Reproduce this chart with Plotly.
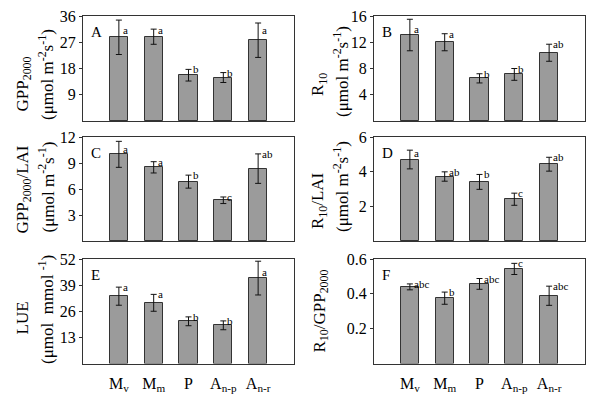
import plotly.graph_objects as go

groups = ["M<sub>v</sub>", "M<sub>m</sub>", "P", "A<sub>n-p</sub>", "A<sub>n-r</sub>"]

gpp = [28.7, 28.9, 15.7, 14.9, 27.7]
gpp_se = [5.9, 2.6, 2.0, 1.7, 5.9]
gpp_sig = ["a", "a", "b", "b", "a"]

r10 = [13.1, 12.0, 6.5, 7.1, 10.4]
r10_se = [2.4, 1.3, 0.7, 0.9, 1.3]
r10_sig = ["a", "a", "b", "b", "ab"]

gpp_lai = [10.0, 8.5, 6.85, 4.7, 8.35]
gpp_lai_se = [1.5, 0.65, 0.75, 0.38, 1.7]
gpp_lai_sig = ["a", "a", "b", "c", "ab"]

r10_lai = [4.7, 3.72, 3.41, 2.41, 4.43]
r10_lai_se = [0.54, 0.27, 0.43, 0.35, 0.4]
r10_lai_sig = ["a", "ab", "b", "c", "ab"]

lue = [33.5, 30.2, 21.0, 19.0, 42.5]
lue_se = [4.5, 4.2, 2.2, 2.2, 8.4]
lue_sig = ["a", "a", "b", "b", "a"]

ratio = [0.44, 0.375, 0.457, 0.543, 0.389]
ratio_se = [0.017, 0.035, 0.031, 0.032, 0.055]
ratio_sig = ["abc", "b", "abc", "c", "abc"]

UNIT = "(μmol m<sup>-2</sup>s<sup>-1</sup>)"

# title lines: (text, x-centre px, y-centre px) in page pixels
panels = [
    dict(letter="A", v=gpp, e=gpp_se, s=gpp_sig, ymax=36, ticks=[9, 18, 27, 36], cap=0.87,
         title=[("GPP<sub>2000</sub>", 23.5, 84), (UNIT, 46, 75)]),
    dict(letter="B", v=r10, e=r10_se, s=r10_sig, ymax=16, ticks=[4, 8, 12, 16], cap=0.875,
         title=[("R<sub>10</sub>", 319, 85), (UNIT, 341, 72)]),
    dict(letter="C", v=gpp_lai, e=gpp_lai_se, s=gpp_lai_sig, ymax=12, ticks=[3, 6, 9, 12], cap=0.88,
         title=[("GPP<sub>2000</sub>/LAI", 23.5, 190), (UNIT, 46, 187.5)]),
    dict(letter="D", v=r10_lai, e=r10_lai_se, s=r10_lai_sig, ymax=6, ticks=[2, 4, 6], cap=0.85,
         title=[("R<sub>10</sub>/LAI", 319, 201), (UNIT, 341, 187)]),
    dict(letter="E", v=lue, e=lue_se, s=lue_sig, ymax=52, ticks=[13, 26, 39, 52], cap=0.88,
         title=[("LUE", 21.5, 318), ("(μmol  mmol <sup>-1</sup>)", 46, 310)]),
    dict(letter="F", v=ratio, e=ratio_se, s=ratio_sig, ymax=0.6, ticks=[0.2, 0.4, 0.6], cap=0.97,
         title=[("R<sub>10</sub>/GPP<sub>2000</sub>", 320.5, 311)]),
]

# the page has an 8px body margin: the figure is 592x396, drawn offset by 8px
OFF = 8
W, H = 600 - OFF, 404 - OFF


def fx(px):
    return (px - OFF) / W


def fy(py):
    return 1 - (py - OFF) / H


xdom = [[fx(83), fx(294)], [fx(374), fx(585)]]
ydom = [[fy(121), fy(16)], [fy(241), fy(137)], [fy(363.5), fy(259)]]

FONT = "Liberation Serif, Times New Roman, serif"
fig = go.Figure()
layout = {}
annotations = []
xs = list(range(len(groups)))

for i, p in enumerate(panels):
    row, col = divmod(i, 2)
    n = i + 1
    xa = "x" if n == 1 else f"x{n}"
    ya = "y" if n == 1 else f"y{n}"
    fig.add_trace(go.Bar(
        x=xs, y=p["v"], xaxis=xa, yaxis=ya, width=0.52,
        marker=dict(color="#9b9b9b", line=dict(color="#333333", width=1)),
        error_y=dict(type="data", array=p["e"], visible=True, color="#111111",
                     thickness=1, width=3),
        showlegend=False, hoverinfo="skip",
    ))
    bottom = row == 2
    layout[f"xaxis{'' if n == 1 else n}"] = dict(
        domain=xdom[col], anchor=ya, range=[-1.03, 4 + 1.03],
        tickvals=xs, ticktext=groups if bottom else [""] * len(groups),
        showticklabels=bottom, ticks="", showline=True, mirror=True,
        linecolor="#333333", linewidth=1, showgrid=False, zeroline=False,
        automargin=False, ticklabelstandoff=5, ticklabeloverflow="allow",
        tickfont=dict(family=FONT, size=16, color="black"),
    )
    layout[f"yaxis{'' if n == 1 else n}"] = dict(
        domain=ydom[row], anchor=xa, range=[0, p["ymax"]],
        tickvals=p["ticks"], ticks="outside", ticklen=3, tickcolor="#333333",
        showline=True, mirror=True, linecolor="#333333", linewidth=1,
        showgrid=False, zeroline=False, automargin=False, ticklabeloverflow="allow",
        tickfont=dict(family=FONT, size=16, color="black"),
    )
    for text, tx, ty in p["title"]:
        annotations.append(dict(
            text=text, xref="paper", yref="paper", x=fx(tx), y=fy(ty),
            xanchor="center", yanchor="middle", textangle=-90, showarrow=False,
            font=dict(family=FONT, size=17, color="black"),
        ))
    annotations.append(dict(
        text=p["letter"], xref=f"{xa} domain", yref=f"{ya} domain", x=0.028, y=0.85,
        xanchor="left", yanchor="middle", showarrow=False,
        font=dict(family=FONT, size=15, color="black"),
    ))
    for j in xs:
        top = p["v"][j] + p["e"][j]
        ly = min(top, p["cap"] * p["ymax"])
        annotations.append(dict(
            text=p["s"][j], xref=xa, yref=ya, x=j, y=ly, xanchor="left", yanchor="middle",
            xshift=2, showarrow=False, font=dict(family=FONT, size=11, color="black"),
        ))

fig.update_layout(
    width=W, height=H, margin=dict(l=0, r=0, t=0, b=0, autoexpand=False),
    paper_bgcolor="white", plot_bgcolor="white", bargap=0,
    annotations=annotations, **layout,
)

fig.write_html("out.html")
